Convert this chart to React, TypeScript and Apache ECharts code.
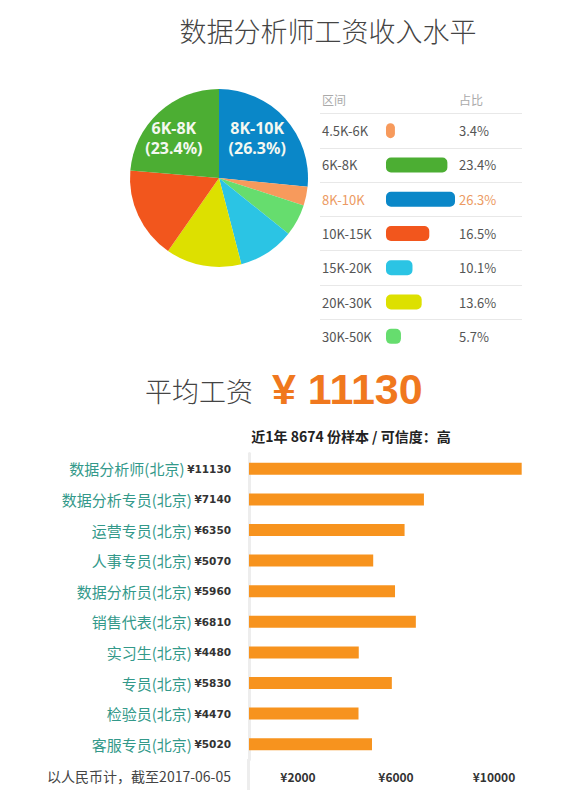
import React, { useEffect, useRef } from 'react';
import * as echarts from 'echarts';

// ---- data ----
const ranges = ['4.5K-6K', '6K-8K', '8K-10K', '10K-15K', '15K-20K', '20K-30K', '30K-50K'];
const shares = [3.4, 23.4, 26.3, 16.5, 10.1, 13.6, 5.7];
const pieOrder = ['8K-10K', '4.5K-6K', '30K-50K', '15K-20K', '20K-30K', '10K-15K', '6K-8K'];
const pieLabeled = ['6K-8K', '8K-10K'];
const highlightRange = '8K-10K';

const jobs = [
  '数据分析师(北京)',
  '数据分析专员(北京)',
  '运营专员(北京)',
  '人事专员(北京)',
  '数据分析员(北京)',
  '销售代表(北京)',
  '实习生(北京)',
  '专员(北京)',
  '检验员(北京)',
  '客服专员(北京)',
];
const salaries = [11130, 7140, 6350, 5070, 5960, 6810, 4480, 5830, 4470, 5020];
const xTicks = [2000, 6000, 10000];
const avgSalary = 11130;
const sampleCount = 8674;

// ---- style ----
const rangeColors = ['#f79a5c', '#4cae33', '#0a87c8', '#f2561d', '#2bc4e4', '#dde000', '#66dd6e'];
const FONT = "'Noto Sans CJK SC', 'Noto Sans', sans-serif";
const pieLabelOffset: Record<string, number[]> = { '6K-8K': [-13, -5], '8K-10K': [3, -8] };

export default function App() {
  const ref = useRef<HTMLDivElement>(null);

  useEffect(() => {
    document.body.style.margin = '0';
    if (!ref.current) return;
    const chart = echarts.init(ref.current, undefined, { renderer: 'svg' });

    const pieData = pieOrder.map((name) => {
      const i = ranges.indexOf(name);
      const labeled = pieLabeled.includes(name);
      return {
        name,
        value: shares[i],
        itemStyle: { color: rangeColors[i] },
        label: labeled
          ? { show: true, position: 'inside', offset: pieLabelOffset[name] }
          : { show: false },
      };
    });

    const option: any = {
      animation: false,
      textStyle: { fontFamily: FONT },
      graphic: [
        {
          type: 'text',
          x: 328,
          y: 30,
          style: {
            text: '数据分析师工资收入水平',
            fontSize: 27,
            fontWeight: 300,
            fill: '#444',
            fontFamily: FONT,
            align: 'center',
            verticalAlign: 'middle',
          },
        },
        {
          type: 'text',
          x: 322,
          y: 99,
          style: { text: '区间', fontSize: 12, fill: '#aaa', fontFamily: FONT, verticalAlign: 'middle' },
        },
        {
          type: 'text',
          x: 459,
          y: 99,
          style: { text: '占比', fontSize: 12, fill: '#aaa', fontFamily: FONT, verticalAlign: 'middle' },
        },
        {
          type: 'text',
          x: 145,
          y: 390,
          style: {
            text: '平均工资',
            fontSize: 27,
            fontWeight: 300,
            fill: '#444',
            fontFamily: FONT,
            verticalAlign: 'middle',
          },
        },
        {
          type: 'text',
          x: 272,
          y: 389,
          style: {
            text: '¥ ' + avgSalary,
            fontSize: 43,
            fontWeight: 'bold',
            fill: '#f0781e',
            fontFamily: "'Liberation Sans', Arial, sans-serif",
            verticalAlign: 'middle',
          },
        },
        {
          type: 'text',
          x: 351,
          y: 436,
          style: {
            text: `近1年 ${sampleCount} 份样本 / 可信度：高`,
            fontSize: 14,
            fontWeight: 'bold',
            fill: '#222',
            fontFamily: FONT,
            align: 'center',
            verticalAlign: 'middle',
          },
        },
        {
          type: 'text',
          x: 231,
          y: 776,
          style: {
            text: '以人民币计，截至2017-06-05',
            fontSize: 14,
            fill: '#444',
            fontFamily: FONT,
            align: 'right',
            verticalAlign: 'middle',
          },
        },
        {
          type: 'rect',
          shape: { x: 247, y: 759, width: 3, height: 31 },
          style: { fill: '#ededed' },
        },
      ],
      grid: [
        { left: 320, top: 113.5, width: 202, height: 240 },
        { left: 249, top: 453.5, width: 294, height: 306 },
      ],
      xAxis: [
        { gridIndex: 0, type: 'value', min: -25.15, max: 51.83, show: false },
        {
          gridIndex: 1,
          type: 'value',
          min: 0,
          max: 12000,
          interval: 2000,
          axisLine: { show: false },
          axisTick: { show: false },
          splitLine: { show: false },
          axisLabel: {
            formatter: (v: number) => (xTicks.includes(v) ? '¥' + v : ''),
            color: '#333',
            fontWeight: 'bold',
            fontSize: 12,
            margin: 11,
            fontFamily: FONT,
          },
        },
      ],
      yAxis: [
        {
          gridIndex: 0,
          type: 'category',
          inverse: true,
          data: ranges,
          axisLine: { show: false },
          axisTick: { show: false },
          axisLabel: {
            inside: true,
            margin: 2,
            fontSize: 13,
            fontFamily: FONT,
            color: (v: string) => (v === highlightRange ? '#ec9a62' : '#555'),
          },
          splitLine: {
            show: true,
            lineStyle: {
              color: ['#e8e8e8', '#e8e8e8', '#e8e8e8', '#e8e8e8', '#e8e8e8', '#e8e8e8', '#e8e8e8', 'rgba(0,0,0,0)'],
              width: 1,
            },
          },
        },
        {
          gridIndex: 0,
          type: 'category',
          inverse: true,
          position: 'right',
          data: shares.map((s) => s.toFixed(1) + '%'),
          axisLine: { show: false },
          axisTick: { show: false },
          axisLabel: {
            inside: true,
            margin: 63,
            align: 'left',
            fontSize: 13,
            fontFamily: FONT,
            color: (_v: string, i: number) => (ranges[i] === highlightRange ? '#ec9a62' : '#555'),
          },
        },
        {
          gridIndex: 1,
          type: 'category',
          inverse: true,
          data: jobs,
          axisLine: { show: true, lineStyle: { color: '#ededed', width: 3 } },
          axisTick: { show: false },
          axisLabel: {
            margin: 18,
            formatter: (v: string, i: number) => `{n|${v}} {v|¥${salaries[i]}}`,
            rich: {
              n: { fontSize: 15, color: '#33998a', fontFamily: FONT },
              v: { fontSize: 10.5, color: '#333', fontWeight: 'bold', fontFamily: "'DejaVu Sans', sans-serif" },
            },
          },
        },
      ],
      series: [
        {
          type: 'pie',
          center: [219, 178],
          radius: 89,
          startAngle: 90,
          clockwise: true,
          silent: true,
          data: pieData,
          label: {
            color: '#f4f8f0',
            fontSize: 16,
            fontWeight: 'bold',
            lineHeight: 20,
            fontFamily: "'Noto Sans', sans-serif",
            formatter: (p: any) => `${p.name}\n(${p.value.toFixed(1)}%)`,
          },
          labelLine: { show: false },
          emphasis: { disabled: true },
        },
        {
          type: 'bar',
          xAxisIndex: 0,
          yAxisIndex: 0,
          silent: true,
          barWidth: 15,
          data: shares.map((s, i) => ({ value: s, itemStyle: { color: rangeColors[i], borderRadius: 5 } })),
        },
        {
          type: 'bar',
          xAxisIndex: 1,
          yAxisIndex: 2,
          silent: true,
          barWidth: 12,
          itemStyle: { color: '#f7931e' },
          data: salaries,
        },
      ],
    };

    chart.setOption(option);
    return () => chart.dispose();
  }, []);

  return <div ref={ref} style={{ width: 584, height: 809 }} />;
}
